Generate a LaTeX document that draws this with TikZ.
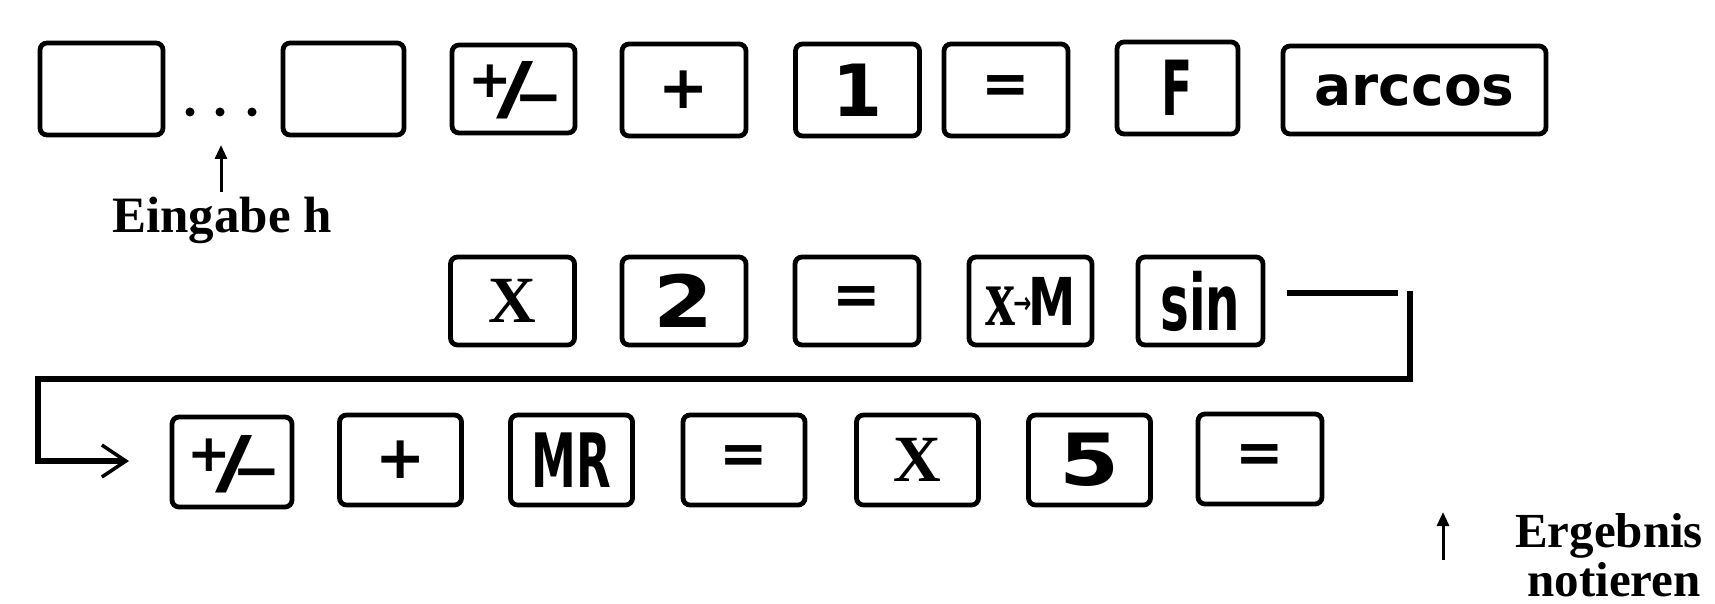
\documentclass[tikz,border=0pt]{standalone}
\usepackage{fontspec}
\setmainfont{Liberation Serif}
\newfontfamily\keyfont{DejaVu Sans}
\usetikzlibrary{arrows.meta}
\newcommand{\pmlabel}{\smash{%
  \makebox[0pt]{\kern-46pt\raisebox{-9pt}{\fontsize{52}{52}\selectfont +}}%
  \makebox[0pt]{\kern4pt\raisebox{-24pt}{\fontsize{70}{70}\selectfont\scalebox{1.45}[1]{/}}}%
  \makebox[0pt]{\kern50pt\raisebox{-28pt}{\fontsize{58}{58}\selectfont −}}}}
\begin{document}
\begin{tikzpicture}[x=1pt,y=-1pt,
  key/.style={draw, line width=4.8pt, rounded corners=7pt, minimum width=124pt,
    minimum height=90pt, inner sep=0pt, font=\keyfont\bfseries\fontsize{56}{56}\selectfont},
  lbl/.style={font=\bfseries\fontsize{51}{51}\selectfont, inner sep=0pt},
  conn/.style={line width=5.5pt},
  pointer/.style={line width=3pt, -{Triangle[length=14pt,width=12pt]}},
  dotm/.style={fill=black}
]
\useasboundingbox (0,0) rectangle (1715,604);
% row 1
\node[key, minimum width=123pt, minimum height=92pt] (b1) at (101.5,89) {};
\node[key, minimum width=121pt, minimum height=92pt] (b2) at (343.5,89) {};
\node[key, minimum width=123pt, minimum height=88pt] (pma) at (513.5,89) {\pmlabel};
\node[key, minimum height=92pt] (plusa) at (684,90) {\fontsize{60}{60}\selectfont +};
\node[key, minimum height=92pt] (one) at (857.5,90) {\fontsize{72}{72}\selectfont 1};
\node[key, minimum height=92pt] (eqa) at (1006,90) {\fontsize{58}{58}\selectfont =};
\node[key, minimum width=121pt, minimum height=92pt] (F) at (1177.5,88) {\fontsize{76}{76}\selectfont\scalebox{0.6}[1]{F}};
\node[key, minimum width=263pt, minimum height=88pt] (arccos) at (1414.5,90) {\fontsize{55}{55}\selectfont arccos};
\fill[dotm] (190,112) circle (4.5) (220,112) circle (4.5) (252,112) circle (4.5);
\node[lbl, anchor=base] (eing) at (222,233) {Eingabe h};
\coordinate (eingtop) at (221,192);
\coordinate (eingtip) at (221,145);
\draw[pointer] (eingtop) -- (eingtip);
% row 2
\node[key, minimum height=88pt] (Xb) at (512.5,301) {\rmfamily\fontsize{66}{66}\selectfont X};
\node[key, minimum height=88pt] (two) at (684,301) {\fontsize{72}{72}\selectfont\scalebox{1.2}[1]{2}};
\node[key, minimum height=88pt] (eqb) at (857,301) {\fontsize{58}{58}\selectfont =};
\node[key, minimum width=123pt, minimum height=88pt] (xM) at (1030.5,301) {\fontsize{66}{66}\selectfont\scalebox{0.72}[1]{{\rmfamily\fontsize{84}{84}\selectfont x}\kern-3pt\raisebox{12pt}{\fontsize{30}{30}\selectfont →}\kern-4pt M}};
\node[key, minimum width=125pt, minimum height=88pt] (sin) at (1200.5,301) {\fontsize{78}{78}\selectfont\scalebox{0.62}[1]{sin}};
% row 3
\node[key, minimum width=120pt] (pmc) at (232,462) {\pmlabel};
\node[key, minimum width=122pt] (plusc) at (400.5,460) {\fontsize{60}{60}\selectfont +};
\node[key, minimum width=122pt] (MR) at (571.5,460) {\fontsize{75}{75}\selectfont\scalebox{0.6}[1]{MR}};
\node[key, minimum width=122pt] (eqc) at (744,460) {\fontsize{58}{58}\selectfont =};
\node[key, minimum width=122pt] (Xc) at (917.5,460) {\rmfamily\fontsize{66}{66}\selectfont X};
\node[key, minimum width=122pt] (five) at (1089.5,460) {\fontsize{72}{72}\selectfont\scalebox{1.2}[1]{5}};
\node[key, minimum width=124pt] (eqd) at (1260,459) {\fontsize{58}{58}\selectfont =};
% connector
\coordinate (c1) at (1398,293);
\coordinate (c2) at (1410,291);
\coordinate (c3) at (1410,379);
\coordinate (c4) at (38,379);
\coordinate (c5) at (38,461);
\coordinate (tip) at (129,461);
\draw[conn] ([xshift=22pt,yshift=8pt]sin.east) -- (c1);
\draw[conn, -{Straight Barb[length=24pt,width=32pt,line width=3.5pt]}] (c2) -- (c3) -- (c4) -- (c5) -- (tip);
% result
\coordinate (ergbot) at (1443,560);
\coordinate (ergtip) at (1443,512);
\draw[pointer] (ergbot) -- (ergtip);
\node[lbl, anchor=base, font=\bfseries\fontsize{49}{49}\selectfont] (erg) at (1609,547) {Ergebnis};
\node[lbl, anchor=base, font=\bfseries\fontsize{49}{49}\selectfont] (noti) at (1614,596) {notieren};
\end{tikzpicture}
\end{document}
